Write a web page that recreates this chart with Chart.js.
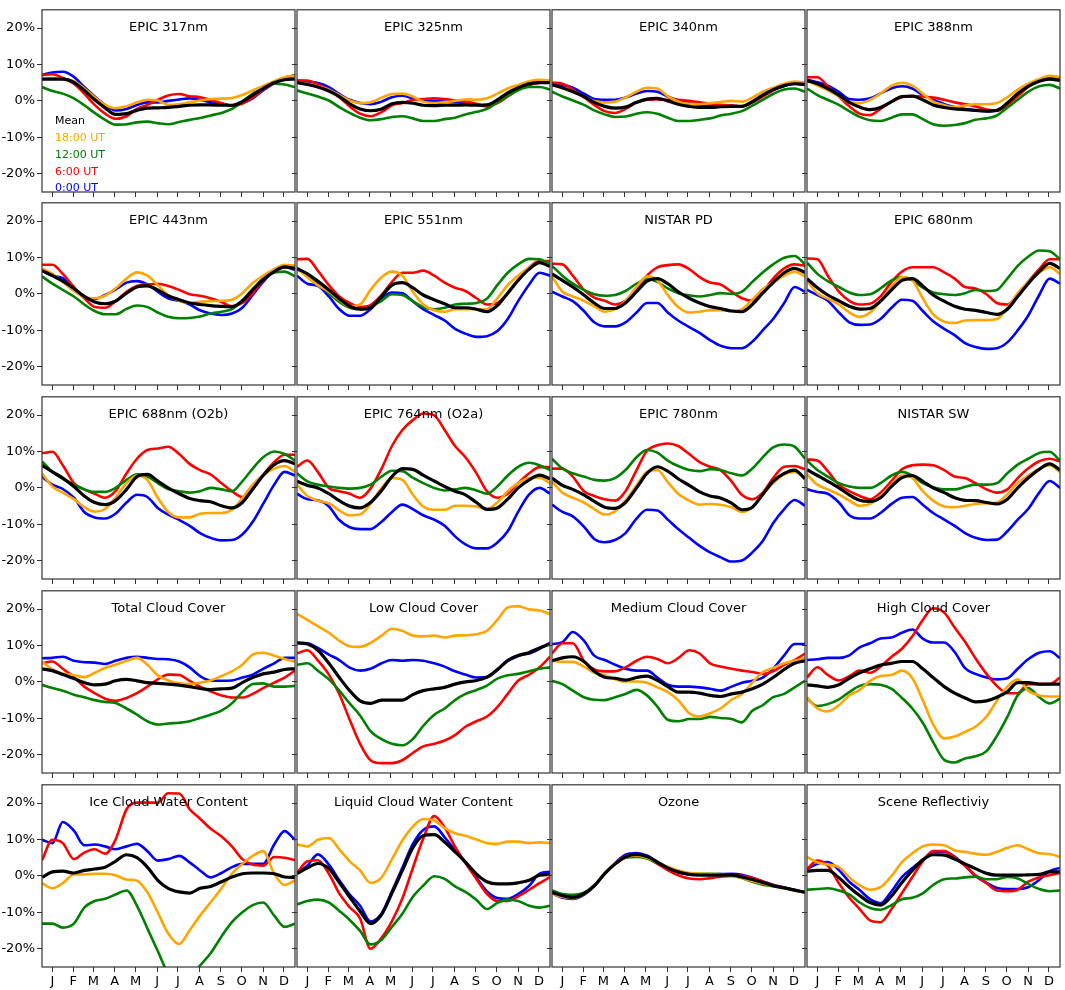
<!DOCTYPE html>
<html>
<head>
<meta charset="utf-8">
<script src="https://cdn.jsdelivr.net/npm/chart.js@4.4.1/dist/chart.umd.min.js"></script>
<style>
  body { margin: 0; background: #fff; width: 1065px; height: 990px; position: relative; overflow: hidden; }
  canvas { position: absolute; }
</style>
</head>
<body>
<script>
// day of year for each sample (half-month steps)
const days = [0, 15, 30, 46, 61, 76, 91, 106, 122, 137, 152, 167, 182, 198, 213, 228, 243, 259, 274, 289, 304, 319, 335, 350, 365];
const monthTicks = [15, 45, 74, 105, 135, 166, 196, 227, 258, 288, 319, 349];
const monthLabels = ['J', 'F', 'M', 'A', 'M', 'J', 'J', 'A', 'S', 'O', 'N', 'D'];
const yTicks = [-20, -10, 0, 10, 20];
const seriesNames = ['Mean', '18:00 UT', '12:00 UT', '6:00 UT', '0:00 UT'];
const seriesColors = ['#000000', '#ffa500', '#008000', '#ff0000', '#0000ff'];

// EPIC 317nm
const e317_mean = [6.0,6.0,6.0,5.1,2.9,0.3,-1.9,-3.7,-3.5,-2.6,-2.0,-1.9,-1.8,-1.5,-1.2,-1.1,-1.1,-1.2,-1.2,-0.2,1.6,3.4,5.0,5.8,6.0];
const e317_18 = [6.0,6.3,6.0,5.4,3.4,1.0,-1.1,-2.0,-1.5,-0.4,0.3,0.1,-1.1,-0.9,-0.4,0.1,0.5,0.6,0.8,1.6,2.9,4.1,5.4,6.5,6.9];
const e317_12 = [3.8,2.7,2.0,0.7,-1.2,-3.3,-5.2,-6.5,-6.4,-5.9,-5.7,-6.1,-6.4,-5.8,-5.2,-4.7,-4.0,-3.3,-2.2,-0.2,2.0,3.5,4.7,4.5,3.8];
const e317_06 = [7.1,7.3,6.3,4.7,2.0,-1.1,-3.5,-4.9,-4.2,-2.2,-1.1,0.3,1.5,1.9,1.3,1.0,0.3,-0.6,-1.3,-0.8,0.9,3.1,4.9,6.3,6.9];
const e317_00 = [7.1,7.8,8.0,6.6,3.8,1.2,-1.1,-2.6,-2.2,-1.1,-0.4,-0.4,0.0,0.4,0.7,0.3,-0.4,-0.8,-1.3,-0.6,0.7,2.9,4.9,6.3,7.1];

// EPIC 325nm
const e325_mean = [5.0,4.5,3.8,2.7,1.2,-0.8,-2.2,-2.7,-2.2,-0.8,-0.4,-0.6,-1.2,-1.3,-1.2,-1.2,-1.1,-1.2,-1.1,0.3,2.2,3.6,4.7,5.0,5.0];
const e325_18 = [5.0,4.7,4.0,3.1,1.6,0.1,-0.6,-0.4,0.9,1.9,2.0,1.2,-0.2,-0.6,-0.4,0.0,0.4,0.3,0.7,2.0,3.4,4.4,5.4,5.8,5.6];
const e325_12 = [2.9,2.0,1.2,0.1,-1.7,-3.3,-4.6,-5.3,-5.0,-4.4,-4.2,-4.8,-5.5,-5.5,-5.0,-4.6,-3.7,-3.0,-2.2,-0.4,1.3,2.9,3.8,3.8,3.1];
const e325_06 = [5.6,5.6,4.5,3.1,1.0,-1.5,-3.5,-4.2,-3.1,-1.2,-0.6,0.3,0.5,0.7,0.5,0.1,-0.2,-0.8,-1.5,-0.6,1.2,3.1,4.4,5.0,5.0];
const e325_00 = [5.6,5.3,4.9,3.8,1.9,0.3,-0.6,-0.9,-0.2,1.0,1.4,0.7,0.1,0.0,-0.2,-0.4,-0.6,-1.1,-1.3,-0.3,1.6,3.2,4.4,5.0,5.0];

// EPIC 340nm
const e340_mean = [4.4,3.6,2.5,1.2,-0.4,-1.5,-2.0,-1.7,-0.4,0.5,0.7,0.0,-0.9,-1.5,-1.8,-1.8,-1.6,-1.5,-1.5,-0.2,1.6,3.1,4.2,4.7,4.5];
const e340_18 = [4.4,3.4,2.5,1.2,0.0,-0.4,-0.2,0.9,2.5,3.6,3.4,1.3,-0.2,-0.8,-0.9,-0.6,-0.3,0.0,-0.2,0.9,2.5,3.6,4.7,5.3,5.0];
const e340_12 = [2.5,1.2,0.1,-1.1,-2.6,-3.7,-4.4,-4.3,-3.5,-3.1,-3.5,-4.6,-5.5,-5.5,-5.2,-4.8,-4.0,-3.5,-2.8,-1.3,0.3,1.9,3.1,3.4,2.5];
const e340_06 = [5.0,4.7,3.1,1.0,-1.1,-2.8,-3.3,-2.2,-0.4,0.3,0.4,0.3,0.3,0.0,-0.4,-0.8,-1.1,-1.3,-1.5,-0.4,1.2,2.9,4.2,4.9,4.7];
const e340_00 = [4.7,4.4,3.6,2.0,0.5,0.3,0.3,0.9,2.0,2.7,2.5,1.2,0.1,-0.6,-1.1,-1.3,-1.3,-1.3,-1.5,-0.4,1.3,2.9,4.1,4.7,4.5];

// EPIC 388nm
const e388_mean = [5.6,4.7,3.4,1.6,-0.4,-1.7,-2.4,-1.8,-0.2,1.2,1.3,0.3,-1.1,-1.8,-2.2,-2.4,-2.6,-2.8,-2.6,-0.6,2.0,4.0,5.4,6.0,5.6];
const e388_18 = [5.6,4.2,2.9,1.2,-0.4,-0.6,0.3,2.0,4.2,5.0,4.2,2.0,-0.2,-1.2,-1.7,-1.3,-0.9,-0.9,-0.6,1.0,3.1,4.7,6.0,6.9,6.5];
const e388_12 = [3.4,1.6,0.3,-1.1,-2.8,-4.4,-5.3,-5.5,-4.6,-3.7,-3.7,-5.0,-6.4,-6.8,-6.6,-6.1,-5.2,-4.8,-4.0,-1.9,0.3,2.5,4.0,4.4,3.4];
const e388_06 = [6.5,6.5,4.0,1.2,-1.5,-3.5,-3.9,-2.2,-0.2,1.0,1.3,1.2,0.9,0.3,-0.4,-0.9,-1.5,-2.4,-2.7,-1.1,1.3,3.8,5.6,6.5,6.3];
const e388_00 = [5.8,5.1,4.2,2.5,0.5,0.3,0.7,2.0,3.5,4.0,3.4,1.6,0.3,-0.9,-1.7,-2.2,-2.6,-2.8,-2.6,-0.6,1.9,4.0,5.4,6.5,6.5];

// EPIC 443nm
const e443_mean = [6.4,5.0,3.5,1.5,-0.7,-2.2,-2.7,-2.0,0.2,1.9,2.2,1.1,-0.5,-1.6,-2.5,-2.9,-3.2,-3.4,-3.5,-1.9,1.1,3.9,6.1,7.4,7.0];
const e443_18 = [7.0,5.5,3.3,0.8,-0.9,-1.2,-0.5,1.5,4.2,5.9,5.0,2.4,-0.4,-1.9,-2.5,-2.2,-2.0,-1.9,-1.6,0.2,3.0,5.0,6.8,8.0,7.7];
const e443_12 = [4.8,2.8,1.1,-0.7,-2.9,-4.7,-5.6,-5.6,-4.1,-3.2,-3.6,-5.1,-6.3,-6.7,-6.6,-6.2,-5.4,-4.9,-4.2,-1.9,1.3,4.2,5.9,6.1,4.8];
const e443_06 = [8.0,8.0,5.5,1.9,-1.2,-3.6,-3.8,-2.0,0.6,2.2,2.6,2.8,2.2,1.1,-0.1,-0.5,-1.2,-2.2,-3.4,-2.5,0.2,3.7,6.4,7.3,7.7];
const e443_00 = [6.4,5.0,4.3,1.5,-1.0,-1.4,-0.3,1.2,3.1,3.5,2.6,0.6,-1.2,-1.9,-2.9,-4.5,-5.4,-5.8,-5.4,-3.8,-0.3,3.3,6.4,7.3,6.6];

// EPIC 551nm
const e551_mean = [7.0,5.5,3.5,1.1,-1.3,-3.4,-4.2,-3.8,-0.7,2.4,3.1,1.7,-0.3,-1.6,-2.7,-3.8,-3.8,-4.2,-4.9,-3.2,0.2,3.7,6.8,8.6,7.5];
const e551_18 = [7.0,4.6,2.4,0.6,-1.6,-3.4,-2.9,1.1,4.6,6.1,5.0,0.6,-2.9,-4.5,-4.9,-4.2,-4.2,-4.2,-4.2,-1.2,2.4,5.0,7.3,8.6,7.7];
const e551_12 = [6.8,5.0,2.8,0.2,-2.2,-3.8,-4.2,-3.6,-1.9,-0.1,-0.3,-2.0,-3.6,-4.2,-3.8,-2.9,-2.7,-2.5,-1.3,2.4,5.8,8.1,9.6,9.5,8.1];
const e551_06 = [9.5,9.6,6.4,2.4,-0.7,-2.5,-3.6,-3.1,-0.3,3.3,5.8,5.8,6.4,5.0,3.1,1.7,0.8,-1.2,-2.9,-2.5,0.2,3.7,7.3,9.0,9.0];
const e551_00 = [5.0,2.8,2.2,-0.7,-4.2,-6.0,-6.0,-4.2,-1.2,0.4,0.2,-2.0,-4.2,-5.8,-7.3,-9.6,-10.9,-11.8,-11.6,-10.2,-6.9,-2.0,2.6,5.8,5.0];

// NISTAR PD
const npd_mean = [5.5,3.7,1.9,-0.3,-2.5,-4.0,-4.0,-2.5,0.6,3.5,4.2,2.8,0.6,-1.2,-2.5,-3.5,-4.0,-4.7,-4.9,-2.9,0.2,3.1,5.8,7.0,5.9];
const npd_18 = [4.8,0.6,-0.7,-1.9,-3.4,-4.9,-4.2,-1.9,1.9,4.8,3.7,-0.3,-3.6,-5.1,-4.9,-4.5,-4.5,-4.7,-4.2,-1.6,1.3,3.1,5.0,6.1,4.8];
const npd_12 = [7.7,5.0,2.8,1.1,-0.1,-0.5,-0.3,0.8,2.8,4.0,3.3,1.5,0.2,-0.4,-0.7,-0.3,0.2,0.0,0.6,3.3,5.9,8.1,9.9,10.4,8.1];
const npd_06 = [8.3,8.1,5.0,1.1,-1.0,-1.9,-2.9,-1.9,1.3,5.0,7.3,7.9,8.1,6.8,4.6,3.1,2.6,0.6,-1.2,-1.9,0.6,4.2,7.0,8.1,7.7];
const npd_00 = [0.6,-0.7,-2.0,-4.7,-7.8,-8.9,-8.9,-7.8,-5.1,-2.5,-2.5,-5.1,-7.3,-9.1,-10.7,-12.7,-14.2,-14.9,-14.9,-13.1,-10.0,-6.9,-2.5,1.9,0.6];

// EPIC 680nm
const e680_mean = [4.2,1.7,-0.3,-1.9,-3.4,-4.2,-4.0,-2.0,1.1,3.7,4.2,2.2,-0.3,-2.0,-3.4,-4.2,-4.5,-5.1,-5.6,-4.2,-0.7,2.8,6.1,8.4,7.0];
const e680_18 = [3.7,0.2,-1.3,-2.9,-5.1,-6.3,-5.1,-2.0,1.9,4.6,3.7,-1.2,-5.6,-7.6,-8.0,-7.3,-7.2,-7.2,-6.9,-3.8,0.2,3.3,5.8,7.3,5.5];
const e680_12 = [8.6,5.5,3.5,1.9,0.4,-0.3,-0.1,1.5,3.7,4.6,3.7,1.7,0.4,-0.1,-0.3,0.2,1.1,0.8,1.1,4.2,7.7,10.2,11.9,11.7,9.5];
const e680_06 = [9.7,9.5,5.0,0.6,-1.9,-2.9,-2.7,-0.7,3.3,6.1,7.3,7.3,7.3,5.9,4.2,1.9,1.5,-0.1,-2.5,-2.9,-0.3,3.3,6.8,9.5,9.5];
const e680_00 = [1.1,-0.3,-1.9,-5.1,-7.8,-8.5,-8.4,-6.9,-3.8,-1.6,-1.9,-4.7,-7.5,-9.6,-11.3,-13.5,-14.6,-15.1,-14.9,-13.3,-10.0,-6.0,-0.3,4.2,2.8];

// EPIC 688nm (O2b)
const e688_mean = [6.2,4.4,2.7,0.4,-2.2,-4.0,-4.6,-3.5,-0.4,3.1,3.7,1.9,0.0,-1.6,-2.9,-3.5,-3.8,-4.9,-5.5,-4.0,-0.3,3.4,6.4,7.5,6.6];
const e688_18 = [4.0,0.4,-1.3,-3.1,-5.3,-6.5,-5.8,-2.7,1.3,3.4,2.2,-2.7,-6.6,-8.1,-8.1,-7.1,-6.9,-6.9,-6.0,-2.8,0.9,3.5,5.3,6.0,4.4];
const e688_12 = [7.3,4.4,2.5,0.9,-0.4,-1.1,-1.1,0.0,2.2,3.7,3.1,1.3,-0.3,-0.9,-1.3,-0.9,0.0,-0.4,-0.9,1.8,5.3,8.4,10.0,9.3,7.5];
const e688_06 = [9.5,9.9,6.2,1.3,-0.4,-1.6,-2.7,-0.9,4.0,8.0,10.4,10.8,11.3,9.3,6.6,4.9,3.7,1.3,-0.9,-2.5,-0.4,3.5,7.1,9.1,9.1];
const e688_00 = [3.1,0.9,-0.3,-2.7,-6.6,-8.1,-8.4,-7.1,-4.0,-1.9,-2.5,-5.5,-7.3,-8.8,-10.4,-12.4,-13.7,-14.4,-14.3,-12.8,-9.3,-4.4,0.9,4.4,3.4];

// EPIC 764nm (O2a)
const e764_mean = [1.8,0.7,0.0,-1.6,-3.5,-5.0,-5.5,-4.0,-0.7,3.1,5.3,5.1,3.5,1.9,0.4,-0.9,-1.9,-4.0,-5.9,-5.5,-3.1,0.0,2.2,3.5,2.5];
const e764_18 = [0.9,-2.2,-3.5,-4.2,-6.2,-7.5,-7.3,-4.4,0.0,2.7,2.2,-1.8,-5.1,-6.0,-6.0,-4.9,-4.9,-5.1,-5.8,-4.0,-0.9,1.3,2.7,2.8,1.3];
const e764_12 = [4.0,1.8,0.9,0.4,0.0,-0.2,0.0,0.9,3.1,4.7,4.6,2.8,1.3,0.0,-0.7,-0.4,0.0,-0.7,-1.6,0.4,3.4,5.8,6.9,6.2,4.9];
const e764_06 = [5.8,7.5,4.4,0.0,-0.9,-1.6,-2.7,-0.2,5.3,11.5,15.9,18.6,20.4,19.9,15.9,11.5,8.4,4.0,-0.9,-2.7,-1.6,1.3,4.0,5.7,5.7];
const e764_00 = [-1.6,-3.1,-3.4,-5.1,-8.8,-10.8,-11.3,-11.3,-9.3,-6.6,-4.6,-5.8,-7.5,-8.7,-10.4,-13.3,-15.5,-16.6,-16.6,-15.0,-11.9,-6.6,-1.8,0.0,-1.6];

// EPIC 780nm
const e780_mean = [2.7,0.7,-0.4,-1.9,-3.7,-5.3,-5.6,-4.0,0.0,4.0,5.8,4.6,2.5,0.7,-1.1,-2.2,-2.8,-4.2,-6.0,-5.3,-1.8,1.8,4.0,4.9,2.5];
const e780_18 = [1.8,-1.3,-2.7,-4.0,-5.8,-7.3,-6.4,-3.5,0.7,4.4,4.9,1.6,-1.6,-3.5,-4.6,-4.4,-4.6,-5.3,-6.6,-5.3,-1.9,1.3,3.7,4.4,2.7];
const e780_12 = [8.0,5.3,4.0,3.1,2.2,2.0,2.7,4.9,8.4,10.4,9.7,7.5,6.0,4.9,4.6,5.1,4.9,4.0,3.4,5.3,8.4,11.1,11.9,11.3,8.0];
const e780_06 = [5.3,5.3,3.1,-0.9,-2.2,-3.1,-3.5,-0.9,4.9,10.2,11.7,12.2,11.5,9.3,7.1,5.8,4.9,1.8,-1.9,-3.1,-1.3,2.7,5.8,6.0,5.1];
const e780_00 = [-4.6,-6.6,-7.8,-10.6,-14.0,-14.9,-14.3,-12.4,-8.4,-6.0,-6.2,-8.7,-11.3,-13.7,-15.9,-17.7,-19.0,-20.2,-19.9,-17.7,-14.6,-9.7,-5.8,-3.3,-4.9];

// NISTAR SW
const nsw_mean = [5.0,3.4,1.8,0.0,-1.9,-3.4,-3.7,-2.7,0.4,2.8,3.4,1.8,0.0,-1.3,-2.7,-3.4,-3.5,-4.0,-4.4,-3.1,0.0,2.7,5.1,6.6,4.9];
const nsw_18 = [3.7,0.9,-0.4,-1.8,-3.5,-4.9,-4.4,-2.2,0.9,3.4,2.7,-0.9,-3.5,-5.1,-5.3,-4.9,-4.4,-4.2,-4.0,-1.8,1.3,3.4,5.3,6.2,4.4];
const nsw_12 = [7.5,4.9,3.1,1.3,0.4,0.0,0.0,1.3,3.4,4.4,3.4,1.3,0.2,-0.4,-0.4,0.3,0.9,0.9,1.3,4.0,6.4,8.0,9.6,9.9,7.5];
const nsw_06 = [7.8,7.5,4.6,0.9,-0.9,-2.2,-3.1,-1.3,1.9,5.1,6.2,6.4,6.2,4.9,3.1,2.7,1.3,-0.4,-1.3,-0.4,2.7,5.3,7.3,8.0,7.3];
const nsw_00 = [-0.4,-1.1,-1.6,-4.0,-7.5,-8.4,-8.4,-6.9,-4.4,-2.7,-2.5,-4.6,-6.9,-8.7,-10.4,-12.4,-13.7,-14.3,-14.2,-11.9,-8.7,-5.8,-1.3,1.9,0.0];

// Total Cloud Cover
const tcc_mean = [3.6,3.1,2.0,0.9,-0.2,-0.8,-0.6,0.3,0.7,0.3,-0.2,-0.4,-0.6,-0.9,-1.3,-1.8,-2.1,-1.9,-1.7,-0.2,1.2,2.2,2.7,3.4,3.6];
const tcc_18 = [5.6,3.4,2.3,1.9,1.3,2.5,3.8,4.7,5.8,6.6,4.7,1.8,0.4,-0.4,-0.6,-0.2,0.4,1.6,2.9,4.7,7.5,8.0,7.2,6.3,5.6];
const tcc_12 = [-0.8,-1.7,-2.4,-3.5,-4.2,-5.0,-5.5,-5.8,-7.3,-9.0,-10.8,-11.7,-11.4,-11.2,-10.8,-9.9,-9.0,-7.9,-5.9,-2.8,-0.6,-0.4,-1.3,-1.3,-1.1];
const tcc_06 = [5.1,5.6,3.6,1.3,-1.3,-3.1,-4.6,-5.2,-4.4,-3.1,-1.3,0.7,2.0,1.9,0.3,-1.3,-2.6,-3.7,-4.3,-4.3,-3.3,-1.7,-0.2,1.2,3.1];
const tcc_00 = [6.5,6.6,6.9,5.8,5.4,5.3,4.9,5.8,6.6,6.9,6.6,6.3,6.2,5.6,4.0,1.6,0.4,0.3,0.4,1.2,2.0,3.6,5.1,6.6,6.6];

// Low Cloud Cover
const lcc_mean = [10.7,10.4,8.7,5.1,1.2,-2.4,-5.2,-5.9,-5.0,-5.0,-5.0,-3.5,-2.4,-1.9,-1.5,-0.6,0.0,0.4,1.3,3.4,5.8,7.2,8.1,9.3,10.4];
const lcc_18 = [18.7,17.0,15.3,13.5,11.3,9.8,9.6,10.7,12.7,14.6,14.0,12.7,12.5,12.7,12.2,12.7,12.8,13.1,14.0,17.0,20.4,20.8,19.9,19.6,18.6];
const lcc_12 = [4.7,5.1,3.1,0.7,-2.4,-5.9,-9.2,-13.5,-15.7,-17.0,-17.4,-15.7,-12.1,-9.0,-7.3,-5.0,-3.3,-2.2,-1.0,0.9,1.8,2.2,2.9,3.6,4.0];
const lcc_06 = [7.8,8.7,5.9,2.0,-3.3,-10.4,-17.0,-21.5,-22.3,-22.3,-21.5,-19.5,-17.7,-17.0,-16.1,-14.6,-12.3,-10.8,-9.5,-6.9,-3.3,0.3,2.0,4.0,6.9];
const lcc_00 = [10.7,10.6,9.3,7.5,6.0,3.9,3.1,3.6,5.1,6.0,5.8,6.0,5.8,5.1,4.2,2.9,2.0,1.2,1.3,3.2,6.0,7.3,7.8,9.1,10.7];

// Medium Cloud Cover
const mcc_mean = [5.8,6.6,6.9,5.6,2.9,1.3,1.0,0.5,1.2,1.6,0.4,-1.3,-2.8,-2.8,-3.1,-3.7,-4.0,-3.3,-2.8,-1.9,-0.6,1.2,3.4,5.1,5.8];
const mcc_18 = [5.8,5.5,5.5,4.2,2.5,1.8,0.7,0.1,0.1,-0.2,-1.5,-2.8,-5.0,-8.6,-9.5,-8.6,-7.3,-4.9,-3.3,-0.2,2.7,3.8,5.1,5.8,6.5];
const mcc_12 = [0.3,-0.6,-2.4,-4.2,-4.9,-5.0,-4.2,-3.3,-2.2,-3.7,-6.8,-10.4,-10.8,-10.2,-10.2,-9.6,-9.9,-10.2,-11.1,-7.9,-6.4,-4.2,-3.3,-1.5,0.3];
const mcc_06 = [7.8,10.6,10.6,5.8,3.4,2.9,2.9,4.0,5.8,6.9,6.3,5.1,6.5,8.7,7.8,5.1,4.2,3.6,3.1,2.7,2.2,2.9,4.7,6.0,7.8];
const mcc_00 = [10.4,10.9,13.7,11.3,7.2,6.0,4.7,3.6,3.1,3.1,1.2,-0.8,-1.3,-1.3,-1.5,-1.9,-2.4,-1.3,-0.2,0.3,1.2,3.6,7.3,10.4,10.4];

// High Cloud Cover
const hcc_mean = [-0.8,-1.1,-1.5,-0.8,1.0,2.5,3.6,4.6,5.1,5.6,5.6,3.6,1.2,-1.3,-3.1,-4.4,-5.5,-5.2,-4.2,-2.7,-0.2,-0.2,-0.6,-0.6,-0.6];
const hcc_18 = [-4.2,-7.3,-8.1,-6.4,-3.7,-2.2,0.3,1.6,1.9,3.1,1.0,-5.0,-11.7,-15.5,-15.0,-13.7,-12.3,-9.5,-5.2,-1.3,0.7,-2.4,-3.7,-4.0,-4.0];
const hcc_12 = [-4.6,-6.6,-6.1,-4.8,-2.8,-1.1,-0.6,-0.8,-1.9,-4.4,-7.3,-11.2,-16.5,-21.4,-22.1,-21.0,-20.4,-19.0,-14.8,-9.6,-3.7,-1.7,-4.2,-5.9,-4.6];
const hcc_06 = [1.2,4.0,1.9,0.4,1.6,3.1,2.5,4.2,6.9,9.1,12.5,17.0,20.2,19.0,14.9,11.0,6.5,2.2,-1.1,-3.1,-3.1,-0.6,-0.6,-0.6,1.2];
const hcc_00 = [6.0,6.2,6.6,6.6,7.3,9.5,10.6,11.9,12.2,13.5,14.4,11.9,10.8,10.8,8.2,3.8,2.2,1.2,0.7,1.0,3.6,6.2,8.0,8.4,6.5];

// Ice Cloud Water Content
const icwc_mean = [-0.4,1.1,1.3,0.8,1.5,1.9,2.4,4.0,5.8,5.0,2.4,-1.2,-3.4,-4.4,-4.7,-3.4,-2.9,-1.6,-0.3,0.6,0.8,0.8,0.6,-0.3,-0.4];
const icwc_18 = [-2.0,-3.4,-2.0,0.4,0.4,0.6,0.6,0.2,-1.0,-1.3,-4.5,-10.0,-15.8,-18.7,-14.9,-10.9,-7.3,-3.4,0.6,3.3,5.5,6.8,0.6,-2.5,-1.2];
const icwc_12 = [-13.1,-13.1,-14.2,-13.1,-8.7,-6.9,-6.3,-5.1,-4.0,-8.2,-14.4,-20.6,-26.8,-29.5,-28.6,-24.6,-21.3,-16.6,-12.7,-10.0,-8.0,-7.3,-10.9,-14.0,-13.1];
const icwc_06 = [4.3,9.9,9.0,4.6,6.4,7.3,6.1,9.9,18.3,20.1,20.1,20.1,22.7,22.6,18.3,15.7,13.0,10.8,8.1,4.6,3.1,2.8,5.2,5.0,4.3];
const icwc_00 = [9.9,9.0,14.8,12.4,8.4,8.6,8.1,7.3,8.1,8.8,6.8,4.2,4.6,5.5,3.7,1.5,-0.4,0.8,2.4,3.3,3.3,3.3,8.6,12.3,9.9];

// Liquid Cloud Water Content
const lcwc_mean = [0.6,2.2,3.4,2.0,-1.8,-5.8,-9.7,-13.1,-10.6,-4.7,1.5,7.7,11.0,11.3,9.3,6.6,3.8,0.5,-1.6,-2.2,-2.2,-1.9,-1.2,0.2,0.4];
const lcwc_18 = [8.6,8.1,9.9,10.4,7.3,4.0,1.5,-1.9,-0.4,4.6,9.7,13.5,15.6,15.2,13.1,11.7,11.0,10.0,9.0,8.8,9.4,9.4,9.0,9.2,9.0];
const lcwc_12 = [-7.8,-6.9,-6.5,-7.3,-9.6,-12.1,-15.1,-18.8,-17.5,-14.0,-10.4,-5.8,-2.7,-0.1,-0.8,-2.9,-4.4,-6.6,-9.1,-7.4,-6.5,-6.9,-8.2,-8.7,-8.2];
const lcwc_06 = [0.8,4.0,4.3,0.6,-4.8,-8.6,-11.7,-20.0,-17.0,-12.4,-6.2,2.1,10.2,16.4,13.3,8.0,3.5,-0.9,-4.9,-6.9,-6.9,-5.6,-3.8,-2.0,-0.3];
const lcwc_00 = [0.8,2.8,5.9,3.1,-1.2,-5.1,-8.2,-12.5,-10.3,-4.2,2.2,8.7,12.6,13.6,10.6,7.1,3.8,-0.5,-4.2,-6.1,-6.3,-5.0,-2.7,0.6,1.1];

// Ozone
const ozone_mean = [-4.5,-5.4,-5.9,-4.9,-2.7,0.6,3.3,5.2,5.9,5.3,3.8,2.2,1.1,0.4,0.2,0.2,0.2,0.2,-0.3,-1.0,-1.8,-2.7,-3.3,-3.9,-4.5];
const ozone_18 = [-4.8,-5.8,-6.1,-5.0,-2.7,0.6,3.3,5.1,5.6,5.0,3.8,2.5,1.5,0.8,0.6,0.5,0.3,0.0,-0.6,-1.4,-2.1,-2.8,-3.4,-4.0,-4.6];
const ozone_12 = [-4.0,-5.0,-5.2,-4.6,-2.6,0.6,3.2,5.0,5.2,4.8,3.6,2.2,1.2,0.7,0.6,0.6,0.5,0.2,-0.6,-1.6,-2.4,-2.8,-3.3,-3.9,-4.5];
const ozone_06 = [-4.6,-5.6,-5.9,-4.9,-2.7,0.6,3.4,5.4,5.8,5.0,3.3,1.6,0.2,-0.7,-0.9,-0.6,-0.2,0.0,0.0,-0.6,-1.5,-2.5,-3.2,-3.9,-4.5];
const ozone_00 = [-4.7,-6.0,-6.3,-5.2,-2.8,0.6,3.5,5.8,6.3,5.6,3.9,2.2,1.0,0.4,0.3,0.4,0.5,0.6,0.3,-0.5,-1.5,-2.4,-3.2,-3.9,-4.5];

// Scene Reflectivity
const srefl_mean = [1.3,1.5,1.5,-0.5,-3.1,-5.4,-7.3,-8.0,-5.5,-1.8,1.5,4.4,5.8,5.7,4.6,3.3,2.0,0.7,0.2,0.2,0.2,0.3,0.4,1.1,1.1];
const srefl_18 = [5.2,3.7,3.1,2.4,-0.4,-2.6,-3.8,-3.1,0.0,3.8,6.2,8.1,8.6,8.4,7.0,6.6,6.1,5.8,6.6,7.7,8.4,7.3,6.2,6.0,5.2];
const srefl_12 = [-3.8,-3.6,-3.4,-4.0,-5.1,-7.3,-8.8,-9.3,-8.0,-6.4,-6.0,-4.8,-2.5,-0.9,-0.7,-0.4,-0.2,-0.9,-0.9,-0.3,-0.7,-2.2,-3.6,-4.2,-4.0];
const srefl_06 = [1.9,4.2,2.8,-2.0,-6.0,-9.1,-12.2,-12.7,-9.1,-4.7,-0.3,4.0,6.8,6.8,5.0,2.8,0.2,-2.0,-4.0,-4.2,-3.8,-1.6,-0.4,0.2,0.8];
const srefl_00 = [1.9,3.3,3.8,1.6,-1.6,-3.9,-6.4,-7.5,-4.2,-0.3,2.2,4.4,6.5,6.6,5.3,2.8,0.0,-1.9,-3.3,-3.6,-3.6,-3.1,-1.1,1.3,2.2];

const panels = [
  ['EPIC 317nm', e317_mean, e317_18, e317_12, e317_06, e317_00],
  ['EPIC 325nm', e325_mean, e325_18, e325_12, e325_06, e325_00],
  ['EPIC 340nm', e340_mean, e340_18, e340_12, e340_06, e340_00],
  ['EPIC 388nm', e388_mean, e388_18, e388_12, e388_06, e388_00],
  ['EPIC 443nm', e443_mean, e443_18, e443_12, e443_06, e443_00],
  ['EPIC 551nm', e551_mean, e551_18, e551_12, e551_06, e551_00],
  ['NISTAR PD', npd_mean, npd_18, npd_12, npd_06, npd_00],
  ['EPIC 680nm', e680_mean, e680_18, e680_12, e680_06, e680_00],
  ['EPIC 688nm (O2b)', e688_mean, e688_18, e688_12, e688_06, e688_00],
  ['EPIC 764nm (O2a)', e764_mean, e764_18, e764_12, e764_06, e764_00],
  ['EPIC 780nm', e780_mean, e780_18, e780_12, e780_06, e780_00],
  ['NISTAR SW', nsw_mean, nsw_18, nsw_12, nsw_06, nsw_00],
  ['Total Cloud Cover', tcc_mean, tcc_18, tcc_12, tcc_06, tcc_00],
  ['Low Cloud Cover', lcc_mean, lcc_18, lcc_12, lcc_06, lcc_00],
  ['Medium Cloud Cover', mcc_mean, mcc_18, mcc_12, mcc_06, mcc_00],
  ['High Cloud Cover', hcc_mean, hcc_18, hcc_12, hcc_06, hcc_00],
  ['Ice Cloud Water Content', icwc_mean, icwc_18, icwc_12, icwc_06, icwc_00],
  ['Liquid Cloud Water Content', lcwc_mean, lcwc_18, lcwc_12, lcwc_06, lcwc_00],
  ['Ozone', ozone_mean, ozone_18, ozone_12, ozone_06, ozone_00],
  ['Scene Reflectiviy', srefl_mean, srefl_18, srefl_12, srefl_06, srefl_00],
];

const FONT = '"DejaVu Sans", "Liberation Sans", sans-serif';
const PANEL_W = 253, PANEL_H = 188;
const PAD_L = 42, PAD_T = 4, PAD_R = 4, PAD_B = 26;

// frame, title inside the axes, and text legend on the first panel
const panelDecor = {
  id: 'panelDecor',
  afterDatasetsDraw(chart, args, opts) {
    const a = chart.chartArea;
    const ctx = chart.ctx;
    ctx.save();
    ctx.strokeStyle = '#333';
    ctx.lineWidth = 1.2;
    ctx.strokeRect(a.left, a.top, a.right - a.left, a.bottom - a.top);
    ctx.fillStyle = '#000';
    ctx.font = '13px ' + FONT;
    ctx.textAlign = 'center';
    ctx.textBaseline = 'middle';
    ctx.fillText(opts.title, (a.left + a.right) / 2, a.top + 18);
    if (opts.legend) {
      ctx.font = '11px ' + FONT;
      ctx.textAlign = 'left';
      seriesNames.forEach((name, i) => {
        ctx.fillStyle = seriesColors[i];
        ctx.fillText(name, a.left + 13, a.top + 111.5 + i * 16.8);
      });
    }
    ctx.restore();
  }
};

panels.forEach((p, idx) => {
  const col = idx % 4, row = Math.floor(idx / 4);
  const left = 42 + 255 * col;
  const top = Math.round(3.5 + 193.8 * row);
  const showY = col === 0;
  const showX = row === 4;

  const canvas = document.createElement('canvas');
  const w = PAD_L + PANEL_W + PAD_R, h = PAD_T + PANEL_H + PAD_B;
  canvas.width = w; canvas.height = h;
  canvas.style.left = (left - PAD_L) + 'px';
  canvas.style.top = (top - PAD_T) + 'px';
  canvas.style.width = w + 'px';
  canvas.style.height = h + 'px';
  document.body.appendChild(canvas);

  const datasets = p.slice(1).map((vals, i) => ({
    label: seriesNames[i],
    data: vals.map((v, k) => ({ x: days[k], y: v })),
    borderColor: seriesColors[i],
    borderWidth: i === 0 ? 3.2 : 2.6,
    pointRadius: 0,
    fill: false,
    cubicInterpolationMode: 'monotone',
  }));

  new Chart(canvas, {
    type: 'line',
    data: { datasets },
    options: {
      responsive: false,
      animation: false,
      devicePixelRatio: 1,
      layout: { padding: { left: 0, top: PAD_T, right: PAD_R, bottom: 0 } },
      plugins: {
        legend: { display: false },
        tooltip: { enabled: false },
        panelDecor: { title: p[0], legend: idx === 0 },
      },
      scales: {
        x: {
          type: 'linear',
          min: 0,
          max: 365,
          afterBuildTicks: (scale) => { scale.ticks = monthTicks.map(v => ({ value: v })); },
          afterFit: (scale) => { scale.height = PAD_B; },
          grid: { drawOnChartArea: false, drawTicks: true, tickLength: 5, color: '#333', lineWidth: 1 },
          border: { display: false },
          ticks: {
            autoSkip: false, maxRotation: 0, minRotation: 0, padding: 2,
            color: '#000', font: { family: FONT, size: 13 },
            callback: (v, i) => showX ? monthLabels[i] : '',
          },
        },
        y: {
          min: -25,
          max: 25,
          afterBuildTicks: (scale) => { scale.ticks = yTicks.map(v => ({ value: v })); },
          afterFit: (scale) => { scale.width = PAD_L; },
          grid: { drawOnChartArea: false, drawTicks: true, tickLength: 5, color: '#333', lineWidth: 1 },
          border: { display: false },
          ticks: {
            padding: 2,
            color: '#000', font: { family: FONT, size: 13 },
            callback: (v) => showY ? v + '%' : '',
          },
        },
      },
    },
    plugins: [panelDecor],
  });
});
</script>
</body>
</html>
